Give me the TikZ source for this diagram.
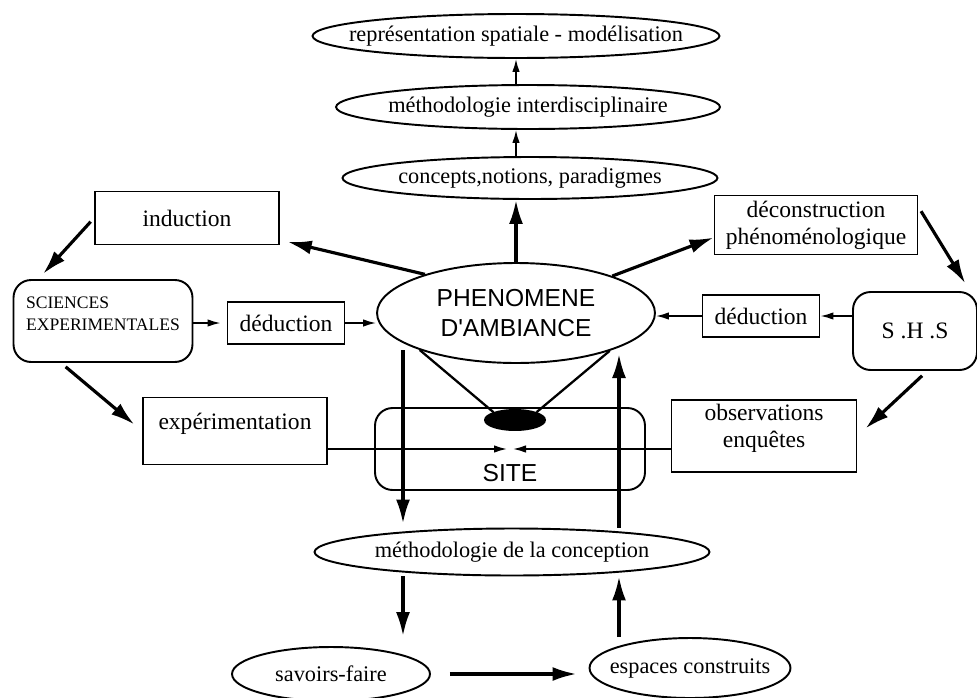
\documentclass[tikz,border=0pt]{standalone}
\usepackage{fontspec}
\setmainfont{Liberation Serif}
\newfontfamily\sansf{Liberation Sans}
\usetikzlibrary{shapes.geometric, arrows.meta, positioning}

\begin{document}
\begin{tikzpicture}[x=0.02cm, y=-0.02cm, line width=1.1pt,
  oval/.style={ellipse, draw, inner xsep=-1.5cm, inner ysep=0pt, font=\fontsize{12.7}{14}\selectfont},
  box/.style={rectangle, draw, inner sep=2pt, align=center, font=\fontsize{13.4}{15.5}\selectfont},
  rbox/.style={box, rounded corners=10pt},
  thick arr/.style={-{Latex[length=0.48cm, width=0.28cm]}, line width=1.8pt},
  thin arr/.style={-{Latex[length=0.26cm, width=0.15cm]}, line width=0.9pt}]
\useasboundingbox (0,0) rectangle (977,697);
% top chain
\node (rs) [oval, minimum width=8.14cm, minimum height=0.88cm] at (516,36) {représentation spatiale - modélisation};
\node (mi) [oval, minimum width=7.68cm, minimum height=0.88cm] at (528,107) {méthodologie interdisciplinaire};
\node (cn) [oval, minimum width=7.5cm, minimum height=0.84cm] at (530,178) {concepts,notions, paradigmes};
% centre
\node (pa) [ellipse, draw, minimum width=5.56cm, minimum height=2cm, inner sep=0pt, align=center,
  font=\sansf\fontsize{14}{17}\selectfont] at (516,313) {PHENOMENE\\D'AMBIANCE};
\node (st) [rbox, minimum width=5.4cm, minimum height=1.64cm, inner sep=0pt, text height=1.3cm,
  font=\sansf\fontsize{14}{17}\selectfont] at (510,449) {SITE};
\node (bl) [ellipse, draw, fill=black, minimum width=1.2cm, minimum height=0.4cm, inner sep=0pt] at (515,420) {};
% left side
\node (in) [box, minimum width=3.68cm, minimum height=1.06cm] at (187,218) {induction};
\node (se) [rbox, minimum width=3.58cm, minimum height=1.64cm, align=left, text depth=0.3cm,
  font=\fontsize{10}{12.5}\selectfont] at (103,321) {SCIENCES\\EXPERIMENTALES};
\node (dl) [box, minimum width=2.34cm, minimum height=0.84cm] at (286,323) {déduction};
\node (ex) [box, minimum width=3.68cm, minimum height=1.34cm, text depth=0.4cm] at (235,431) {expérimentation};
% right side
\node (dc) [box, minimum width=4.06cm, minimum height=1.18cm] at (816,225) {déconstruction\\phénoménologique};
\node (sh) [rbox, minimum width=2.48cm, minimum height=1.56cm] at (915,331) {S .H .S};
\node (dr) [box, minimum width=2.34cm, minimum height=0.84cm] at (761,316) {déduction};
\node (ob) [box, minimum width=3.7cm, minimum height=1.44cm, text depth=0.4cm] at (764,436) {observations\\enquêtes};
% bottom
\node (mc) [oval, minimum width=7.9cm, minimum height=0.94cm] at (512,552) {méthodologie de la conception};
\node (sf) [oval, minimum width=3.96cm, minimum height=1.08cm] at (331,674) {savoirs-faire};
\node (ec) [oval, minimum width=4.02cm, minimum height=1.2cm] at (690,668) {espaces construits};
\coordinate (dn) at (403,350);
\coordinate (up) at (619,354);

\path [thick arr]
     (pa.north) edge (pa.north |- cn.south)
     (pa.157) edge[shorten >=0.16cm] (in)
     (in.west) edge[shorten <=0.1cm, shorten >=0.14cm] (se.147)
     (se.225) edge[shorten <=0.12cm, shorten >=0.2cm] (ex.west)
     (pa.21) edge (dc.187)
     (dc.10) edge[shorten <=0.1cm, shorten >=0.18cm] (sh.36)
     (sh.287) edge[shorten <=0.14cm, shorten >=0.22cm] (ob.east)
     (dn) edge[shorten >=0.08cm] (dn |- mc.north)
     (dn |- mc.south) edge[shorten >=0.2cm] (dn |- sf.north)
     (sf.east) edge[shorten <=0.38cm, shorten >=0.24cm] (sf.east -| ec.west)
     (ec.north -| up) edge (up |- mc.south)
     (mc.north -| up) edge (up);
\path [thin arr]
     (cn.north -| pa.north) edge (mi.south -| pa.north)
     (mi.north -| pa.north) edge (rs.south -| pa.north)
     (se.east |- dl) edge[shorten >=0.12cm] (dl)
     (dl.east) edge (dl.east -| pa.west)
     (sh.west |- dr) edge (dr.east)
     (dr.west) edge (dr.west -| pa.east)
     (ex.east |- st) edge[shorten >=0.06cm] (st.center)
     (ob.west |- st) edge[shorten >=0.06cm] (st.center);
\draw [line width=1.3pt] (pa.201) -- (bl.160) (pa.338) -- (bl.20);
\end{tikzpicture}
\end{document}
